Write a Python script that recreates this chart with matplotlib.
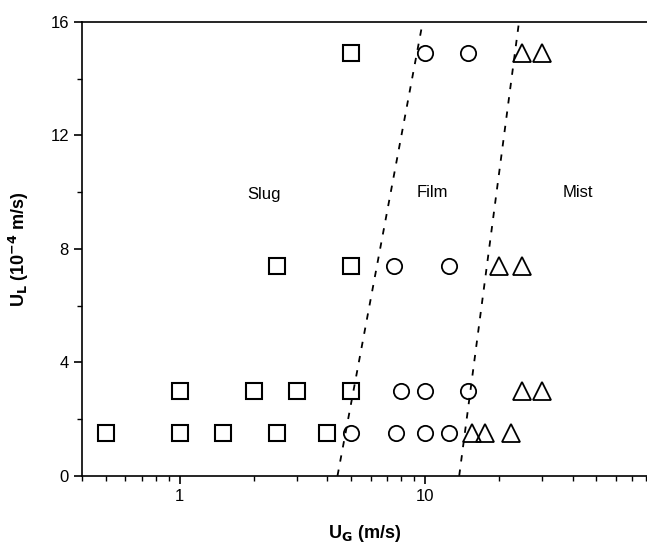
import numpy as np
import matplotlib.pyplot as plt
from matplotlib.ticker import FixedLocator, NullFormatter, LogLocator

plt.rcParams['font.family'] = ['Liberation Sans', 'DejaVu Sans']

# Slug regime (squares)
slug_ug = [5, 2.5, 5, 1, 2, 3, 5, 0.5, 1, 1.5, 2.5, 4]
slug_ul = [14.9, 7.4, 7.4, 3, 3, 3, 3, 1.5, 1.5, 1.5, 1.5, 1.5]

# Film regime (circles)
film_ug = [10, 15, 7.5, 12.5, 8, 10, 15, 5, 7.6, 10, 12.5]
film_ul = [14.9, 14.9, 7.4, 7.4, 3, 3, 3, 1.5, 1.5, 1.5, 1.5]

# Mist regime (triangles)
mist_ug = [25, 30, 20, 25, 25, 30, 15.5, 17.5, 22.5]
mist_ul = [14.9, 14.9, 7.4, 7.4, 3, 3, 1.5, 1.5, 1.5]

# regime boundaries (dashed)
bound1_ug = [4.4, 9.8]
bound2_ug = [13.8, 24.2]
bound_ul = [0, 16]

fig = plt.figure(figsize=(6.47, 5.45), dpi=100)
ax = fig.add_axes([0.127, 0.127, 0.873, 0.833])

ax.plot(slug_ug, slug_ul, 's', ms=11, mfc='none', mec='black', mew=1.5)
ax.plot(film_ug, film_ul, 'o', ms=11, mfc='none', mec='black', mew=1.3)
ax.plot(mist_ug, mist_ul, '^', ms=13, mfc='none', mec='black', mew=1.3)

ax.plot(bound1_ug, bound_ul, '--', color='black', lw=1.3, dashes=(3.5, 4.5))
ax.plot(bound2_ug, bound_ul, '--', color='black', lw=1.3, dashes=(3.5, 4.5))

ax.text(2.2, 9.9, 'Slug', fontsize=12, ha='center', va='center')
ax.text(10.7, 10.0, 'Film', fontsize=12, ha='center', va='center')
ax.text(42, 10.0, 'Mist', fontsize=12, ha='center', va='center')

ax.set_xscale('log')
ax.set_xlim(0.4, 80.5)
ax.set_ylim(0, 16)
ax.set_xticks([1, 10])
ax.set_xticklabels(['1', '10'])
ax.xaxis.set_minor_locator(LogLocator(base=10, subs=np.arange(2, 10)))
ax.xaxis.set_minor_formatter(NullFormatter())
ax.set_yticks([0, 4, 8, 12, 16])
ax.yaxis.set_minor_locator(FixedLocator([2, 6, 10, 14]))

ax.tick_params(which='major', direction='out', length=6, width=1.2, labelsize=12)
ax.tick_params(which='minor', direction='out', length=3.5, width=1.0)
ax.spines['right'].set_visible(False)
for s in ['left', 'bottom', 'top']:
    ax.spines[s].set_linewidth(1.2)

ax.set_xlabel('U$_\\mathbf{G}$ (m/s)', fontsize=13, fontweight='bold', labelpad=14)
ax.set_ylabel('U$_\\mathbf{L}$ (10$^\\mathbf{-4}$ m/s)', fontsize=13, fontweight='bold', labelpad=14)

fig.savefig('out.png', dpi=100)
